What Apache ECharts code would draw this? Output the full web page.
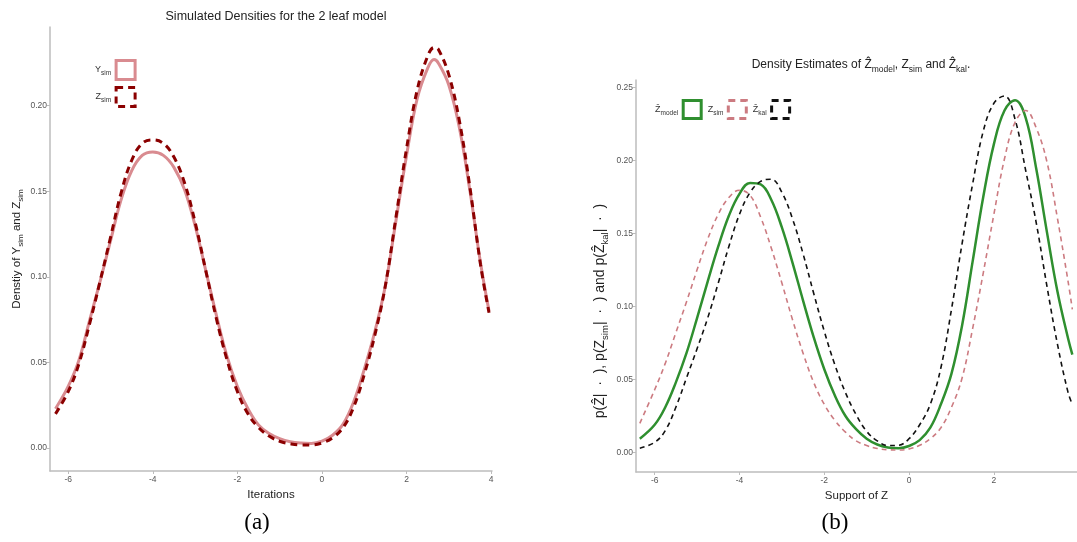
<!DOCTYPE html>
<html>
<head>
<meta charset="utf-8">
<script src="https://cdn.jsdelivr.net/npm/echarts@6/dist/echarts.min.js"></script>
<style>html,body{margin:0;padding:0;background:#fff;}#c{width:1077px;height:542px;}</style>
</head>
<body>
<div id="c"></div>
<script>
// ---- Panel (a) data ----
const xA = [-6.3,-6.0,-5.75,-5.5,-5.25,-5.0,-4.75,-4.5,-4.25,-4.0,-3.75,-3.5,-3.25,-3.0,-2.75,-2.5,-2.25,-2.0,-1.75,-1.5,-1.25,-1.0,-0.75,-0.5,-0.25,0.0,0.25,0.5,0.75,1.0,1.25,1.5,1.75,2.0,2.25,2.5,2.65,2.75,3.0,3.25,3.5,3.75,3.95];
const ySimA = [0.023,0.036,0.051,0.074,0.097,0.121,0.145,0.162,0.171,0.173,0.171,0.164,0.151,0.130,0.104,0.078,0.054,0.036,0.023,0.0135,0.0085,0.0055,0.0037,0.0029,0.0027,0.004,0.0075,0.014,0.027,0.046,0.068,0.095,0.133,0.171,0.204,0.222,0.227,0.225,0.212,0.187,0.150,0.108,0.080];
const zSimA = [0.020,0.033,0.049,0.072,0.097,0.123,0.149,0.168,0.178,0.180,0.178,0.170,0.155,0.132,0.104,0.076,0.052,0.033,0.020,0.012,0.007,0.004,0.0025,0.0018,0.0018,0.003,0.006,0.012,0.024,0.043,0.066,0.095,0.135,0.175,0.209,0.229,0.234,0.233,0.218,0.191,0.152,0.107,0.079];
const xTicksA = [-6,-4,-2,0,2,4];
const yTicksA = [0,0.05,0.10,0.15,0.20];

// ---- Panel (b) data ----
const xB = [-6.35,-6.0,-5.75,-5.5,-5.25,-5.0,-4.75,-4.5,-4.25,-4.0,-3.75,-3.5,-3.25,-3.0,-2.75,-2.5,-2.25,-2.0,-1.75,-1.5,-1.25,-1.0,-0.75,-0.5,-0.25,0.0,0.25,0.5,0.75,1.0,1.25,1.5,1.75,2.0,2.25,2.5,2.75,3.0,3.25,3.5,3.75,3.85];
const zModelB = [0.0095,0.019,0.031,0.048,0.068,0.092,0.117,0.141,0.162,0.177,0.1845,0.1835,0.173,0.154,0.130,0.104,0.079,0.057,0.039,0.025,0.016,0.0095,0.0055,0.0035,0.003,0.0045,0.0085,0.017,0.033,0.054,0.087,0.131,0.175,0.211,0.234,0.241,0.229,0.194,0.151,0.110,0.078,0.067];
const zSimB = [0.020,0.043,0.061,0.082,0.103,0.125,0.146,0.163,0.1745,0.1795,0.176,0.161,0.140,0.116,0.091,0.068,0.048,0.033,0.022,0.014,0.008,0.0048,0.0028,0.0019,0.0018,0.0025,0.005,0.0095,0.017,0.031,0.051,0.085,0.123,0.163,0.201,0.226,0.234,0.222,0.199,0.160,0.117,0.098];
const zKalB = [0.003,0.007,0.015,0.031,0.051,0.071,0.092,0.116,0.141,0.163,0.178,0.1855,0.187,0.178,0.160,0.136,0.109,0.083,0.060,0.041,0.026,0.0145,0.0080,0.0048,0.0050,0.0095,0.019,0.033,0.058,0.098,0.143,0.184,0.220,0.239,0.244,0.228,0.193,0.157,0.114,0.074,0.041,0.033];
const xTicksB = [-6,-4,-2,0,2];
const yTicksB = [0,0.05,0.10,0.15,0.20,0.25];

const zip = (xs, ys) => xs.map((x, i) => [x, ys[i]]);

const FONT = 'Liberation Sans, Arial, Helvetica, sans-serif';
const AX = '#bdbdbd';
const LBL = '#555';
const subRichA = {
  m: {fontSize: 11.5, color: '#222', lineHeight: 16, verticalAlign: 'middle'},
  s: {fontSize: 8, color: '#222', lineHeight: 16, verticalAlign: 'bottom'}
};
const subRichB = {
  m: {fontSize: 14, color: '#222', lineHeight: 19, verticalAlign: 'middle'},
  s: {fontSize: 9.5, color: '#222', lineHeight: 19, verticalAlign: 'bottom'}
};
const legRich = {
  m: {fontSize: 9, color: '#333', lineHeight: 14, verticalAlign: 'middle'},
  s: {fontSize: 6.5, color: '#333', lineHeight: 14, verticalAlign: 'bottom'}
};

function xAxisCfg(gi, min, max, ticks, name) {
  return {
    type: 'value', gridIndex: gi, min: min, max: max,
    name: name, nameLocation: 'middle', nameGap: 17,
    nameTextStyle: {fontSize: 11.5, color: '#222', fontFamily: FONT},
    axisLine: {onZero: false, lineStyle: {color: AX, width: 1.5}},
    axisTick: {length: 3, customValues: ticks, lineStyle: {color: AX, width: 1}},
    axisLabel: {customValues: ticks, color: LBL, fontSize: 8.5, margin: 4, fontFamily: FONT},
    splitLine: {show: false}
  };
}
function yAxisCfg(gi, min, max, ticks, name, gap, nts) {
  return {
    type: 'value', gridIndex: gi, min: min, max: max,
    name: name, nameLocation: 'middle', nameGap: gap,
    nameTextStyle: nts,
    axisLine: {onZero: false, lineStyle: {color: AX, width: 1.5}},
    axisTick: {length: 3, customValues: ticks, lineStyle: {color: AX, width: 1}},
    axisLabel: {customValues: ticks, color: LBL, fontSize: 8.5, margin: 3, fontFamily: FONT,
      formatter: v => v.toFixed(2)},
    splitLine: {show: false}
  };
}

const legendNames = {
  Ysim: '{m|Y}{s|sim}', Zsim_a: '{m|Z}{s|sim}',
  Zmodel: '{m|Ẑ}{s|model}', Zsim_b: '{m|Z}{s|sim}', Zkal: '{m|Ẑ}{s|kal}'
};

const C_Y = '#d98b90', C_Z = '#8b0000', C_G = '#2f8f2f', C_P = '#cc7b81', C_K = '#111111';

const option = {
  animation: false,
  backgroundColor: '#ffffff',
  textStyle: {fontFamily: FONT},
  title: [
    {text: 'Simulated Densities for the 2 leaf model', left: 271, top: 5, textAlign: 'center',
     textStyle: {fontSize: 12.5, fontWeight: 'normal', color: '#222', fontFamily: FONT}},
    {text: 'Density Estimates of {m|Ẑ}{s|model}, {m|Z}{s|sim} and {m|Ẑ}{s|kal}.', left: 856, top: 51, textAlign: 'center',
     textStyle: {fontSize: 12, fontWeight: 'normal', color: '#222', fontFamily: FONT, rich: {
       m: {fontSize: 12, color: '#222', lineHeight: 18, verticalAlign: 'middle'},
       s: {fontSize: 8.5, color: '#222', lineHeight: 18, verticalAlign: 'bottom'}}}},
    {text: '(a)', left: 252, top: 506, textAlign: 'center',
     textStyle: {fontSize: 23, fontWeight: 'normal', color: '#000', fontFamily: 'Liberation Serif, DejaVu Serif, serif'}},
    {text: '(b)', left: 830, top: 506, textAlign: 'center',
     textStyle: {fontSize: 23, fontWeight: 'normal', color: '#000', fontFamily: 'Liberation Serif, DejaVu Serif, serif'}}
  ],
  grid: [
    {left: 50, top: 27, width: 442, height: 444},
    {left: 636, top: 80, width: 441, height: 392}
  ],
  xAxis: [
    xAxisCfg(0, -6.43, 4.02, xTicksA, 'Iterations'),
    xAxisCfg(1, -6.44, 3.96, xTicksB, 'Support of Z')
  ],
  yAxis: [
    yAxisCfg(0, -0.0134, 0.246, yTicksA, 'Denstiy of {m|Y}{s|sim} and {m|Z}{s|sim}', 25,
      {fontSize: 11.5, color: '#222', fontFamily: FONT, rich: subRichA}),
    yAxisCfg(1, -0.0133, 0.2549, yTicksB, 'p({m|Ẑ}|  ·  ), p({m|Z}{s|sim}|  ·  ) and p({m|Ẑ}{s|kal}|  ·  )', 26,
      {fontSize: 14, color: '#222', fontFamily: FONT, rich: subRichB, padding: [0, 70, 0, 0]})
  ],
  legend: [
    {orient: 'vertical', left: 90, top: 54, align: 'right', icon: 'rect',
     itemWidth: 19, itemHeight: 19, itemGap: 5,
     formatter: n => legendNames[n], textStyle: {fontSize: 9, color: '#333', rich: legRich},
     data: [
       {name: 'Ysim', itemStyle: {color: 'rgba(0,0,0,0)', borderColor: C_Y, borderWidth: 3}},
       {name: 'Zsim_a', itemStyle: {color: 'rgba(0,0,0,0)', borderColor: C_Z, borderWidth: 3, borderType: [7, 5]}}
     ]},
    {orient: 'horizontal', left: 650, top: 94, align: 'right', icon: 'rect',
     itemWidth: 18, itemHeight: 18, itemGap: 5,
     formatter: n => legendNames[n], textStyle: {fontSize: 9, color: '#333', rich: legRich},
     data: [
       {name: 'Zmodel', itemStyle: {color: 'rgba(0,0,0,0)', borderColor: C_G, borderWidth: 3}},
       {name: 'Zsim_b', itemStyle: {color: 'rgba(0,0,0,0)', borderColor: C_P, borderWidth: 3, borderType: [7, 5]}},
       {name: 'Zkal', itemStyle: {color: 'rgba(0,0,0,0)', borderColor: C_K, borderWidth: 3, borderType: [7, 5]}}
     ]}
  ],
  series: [
    {name: 'Ysim', type: 'line', xAxisIndex: 0, yAxisIndex: 0, data: zip(xA, ySimA), smooth: 0.4,
     showSymbol: false, symbol: 'none', itemStyle: {color: C_Y}, lineStyle: {color: C_Y, width: 3}},
    {name: 'Zsim_a', type: 'line', xAxisIndex: 0, yAxisIndex: 0, data: zip(xA, zSimA), smooth: 0.4,
     showSymbol: false, symbol: 'none', itemStyle: {color: C_Z}, lineStyle: {color: C_Z, width: 3, type: [7, 5]}},
    {name: 'Zmodel', type: 'line', xAxisIndex: 1, yAxisIndex: 1, data: zip(xB, zModelB), smooth: 0.4,
     showSymbol: false, symbol: 'none', itemStyle: {color: C_G}, lineStyle: {color: C_G, width: 2.5}},
    {name: 'Zsim_b', type: 'line', xAxisIndex: 1, yAxisIndex: 1, data: zip(xB, zSimB), smooth: 0.4,
     showSymbol: false, symbol: 'none', itemStyle: {color: C_P}, lineStyle: {color: C_P, width: 1.6, type: [5, 4]}},
    {name: 'Zkal', type: 'line', xAxisIndex: 1, yAxisIndex: 1, data: zip(xB, zKalB), smooth: 0.4,
     showSymbol: false, symbol: 'none', itemStyle: {color: C_K}, lineStyle: {color: C_K, width: 1.6, type: [5, 4]}}
  ]
};

const chart = echarts.init(document.getElementById('c'), null, {renderer: 'canvas'});
chart.setOption(option);
</script>
</body>
</html>
